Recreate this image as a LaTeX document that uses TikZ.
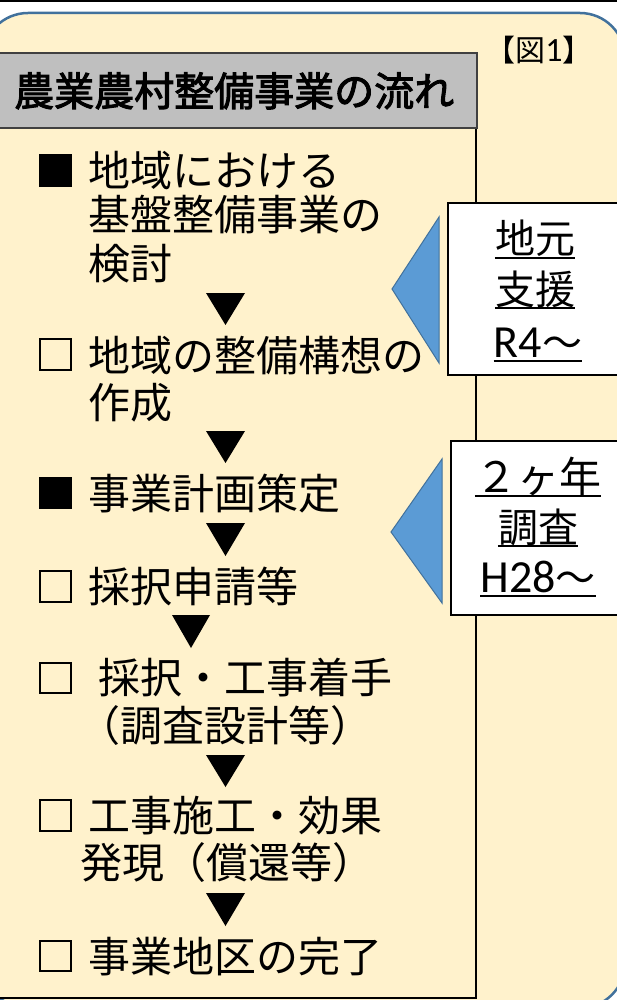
\documentclass[tikz,border=0pt]{standalone}
\usepackage{fontspec}
\newfontfamily\jp{Noto Sans CJK JP}
\newfontfamily\jpb[FakeBold=2.5]{Noto Sans CJK JP}
\newfontfamily\lat{Carlito}
\definecolor{cream}{HTML}{FFF2CC}
\definecolor{frameblue}{HTML}{41719C}
\definecolor{triblue}{HTML}{5B9BD5}
\definecolor{titlegray}{HTML}{BFBFBF}
\begin{document}
\begin{tikzpicture}[x=1pt,y=-1pt,
  item/.style={anchor=base west,inner sep=0pt,font=\jp\fontsize{42}{46}\selectfont},
  sidetext/.style={anchor=base,inner sep=0pt,font=\jp\fontsize{40}{44}\selectfont},
  fullsq/.style={fill=black},
  opensq/.style={draw=black,line width=1.6pt},
  downtri/.style={fill=black},
  sidebox/.style={draw=black,line width=2pt,fill=white},
  bluetri/.style={fill=triblue,draw=frameblue,line width=1pt,line join=miter},
  ul/.style={line width=1.6pt},
  outer/.style={fill=cream,draw=frameblue,line width=2.5pt,rounded corners=45pt},
  panel/.style={fill=cream,draw=black,line width=2pt},
  titlebox/.style={fill=titlegray,draw=black!75,line width=1.6pt}
]
\useasboundingbox (0,0) rectangle (617,1000);
% top rule
\draw[line width=2pt] (0,1) -- (617,1);
% outer rounded frame
\draw[outer] (-17,13) rectangle (625,1008);
% inner panel and title
\draw[panel] (-5,53) rectangle (476,998);
\draw[titlebox] (-5,53) rectangle (477,128);
\node[anchor=base west,inner sep=0pt,font=\jpb\fontsize{40}{44}\selectfont] (title) at (14,106) {農業農村整備事業の流れ};
\node[anchor=base,inner sep=0pt,font=\jp\fontsize{30}{34}\selectfont] (fig) at (539,62) {【図{\lat\fontsize{34}{38}\selectfont 1}】};

% items
\fill[fullsq] (39,154) rectangle (72,187);
\node[item] (i1a) at (88,187) {地域における};
\node[item] (i1b) at (88,231) {基盤整備事業の};
\node[item] (i1c) at (88,279) {検討};
\fill[downtri] (206,293) -- (245,293) -- (225.5,325) -- cycle;

\draw[opensq] (40,339) rectangle (71,370);
\node[item] (i2a) at (88,371) {地域の整備構想の};
\node[item] (i2b) at (88,418) {作成};
\fill[downtri] (206,431) -- (245,431) -- (225.5,463) -- cycle;

\fill[fullsq] (39,477) rectangle (72,509);
\node[item] (i3) at (88,509) {事業計画策定};
\fill[downtri] (206,523) -- (245,523) -- (225.5,556) -- cycle;

\draw[opensq] (40,571) rectangle (71,602);
\node[item] (i4) at (88,602) {採択申請等};
\fill[downtri] (172,615) -- (210,615) -- (191,648) -- cycle;

\draw[opensq] (40,663) rectangle (71,693);
\node[item] (i5a) at (98,693) {採択・工事着手};
\node[item] (i5b) at (78,741) {（調査設計等）};
\fill[downtri] (206,755) -- (245,755) -- (225.5,787) -- cycle;

\draw[opensq] (40,800) rectangle (71,831);
\node[item] (i6a) at (88,831) {工事施工・効果};
\node[item] (i6b) at (80,878) {発現（償還等）};
\fill[downtri] (206,893) -- (245,893) -- (225.5,926) -- cycle;

\draw[opensq] (40,941) rectangle (71,971);
\node[item] (i7) at (88,972) {事業地区の完了};

% side box 1
\draw[bluetri] (392,289) -- (439,217) -- (439,363) -- cycle;
\draw[sidebox] (448,203) rectangle (625,375);
\node[sidetext] (a1) at (535,254) {地元};
\node[sidetext] (a2) at (535,304) {支援};
\node[sidetext] (a3) at (538,357) {{\lat\fontsize{46}{50}\selectfont R4}～};
\foreach \n in {a1,a2,a3}
  \draw[ul] ([yshift=-4pt]\n.base west) -- ([yshift=-4pt]\n.base east);

% side box 2
\draw[bluetri] (391,532) -- (442,459) -- (442,603) -- cycle;
\draw[sidebox] (451,441) rectangle (625,615);
\node[sidetext,font=\jp\fontsize{42}{46}\selectfont] (b1) at (538,492) {２ヶ年};
\node[sidetext] (b2) at (538,542) {調査};
\node[sidetext] (b3) at (538,592) {{\lat\fontsize{46}{50}\selectfont H28}～};
\foreach \n in {b1,b2,b3}
  \draw[ul] ([yshift=-4pt]\n.base west) -- ([yshift=-4pt]\n.base east);
\end{tikzpicture}
\end{document}
